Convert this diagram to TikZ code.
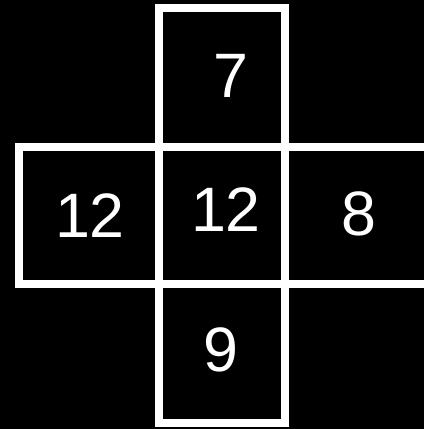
\documentclass[tikz,border=0pt]{standalone}
\usepackage{fontspec}
\setmainfont{Liberation Sans}
\begin{document}
\begin{tikzpicture}[x=1bp,y=-1bp,
  cell/.style={draw=white,line width=8bp},
  num/.style={text=white,inner sep=0pt,font=\fontsize{63}{63}\selectfont}]
\fill[black] (0,0) rectangle (424,429);
\useasboundingbox (0,0) rectangle (424,429);
\clip (0,0) rectangle (424,429);
% cells
\draw[cell] (159,8) rectangle (285,146.5);
\draw[cell] (19,146.5) rectangle (159,284);
\draw[cell] (159,146.5) rectangle (285,284);
\draw[cell] (285,146.5) rectangle (440,284);
\draw[cell] (159,284) rectangle (285,423);
% labels
\node[num] (top) at (231,76) {7};
\node[num] (left) at (90,216) {12};
\node[num] (mid) at (226,210) {12};
\node[num] (right) at (359,214) {8};
\node[num] (bottom) at (221,350) {9};
\end{tikzpicture}
\end{document}
